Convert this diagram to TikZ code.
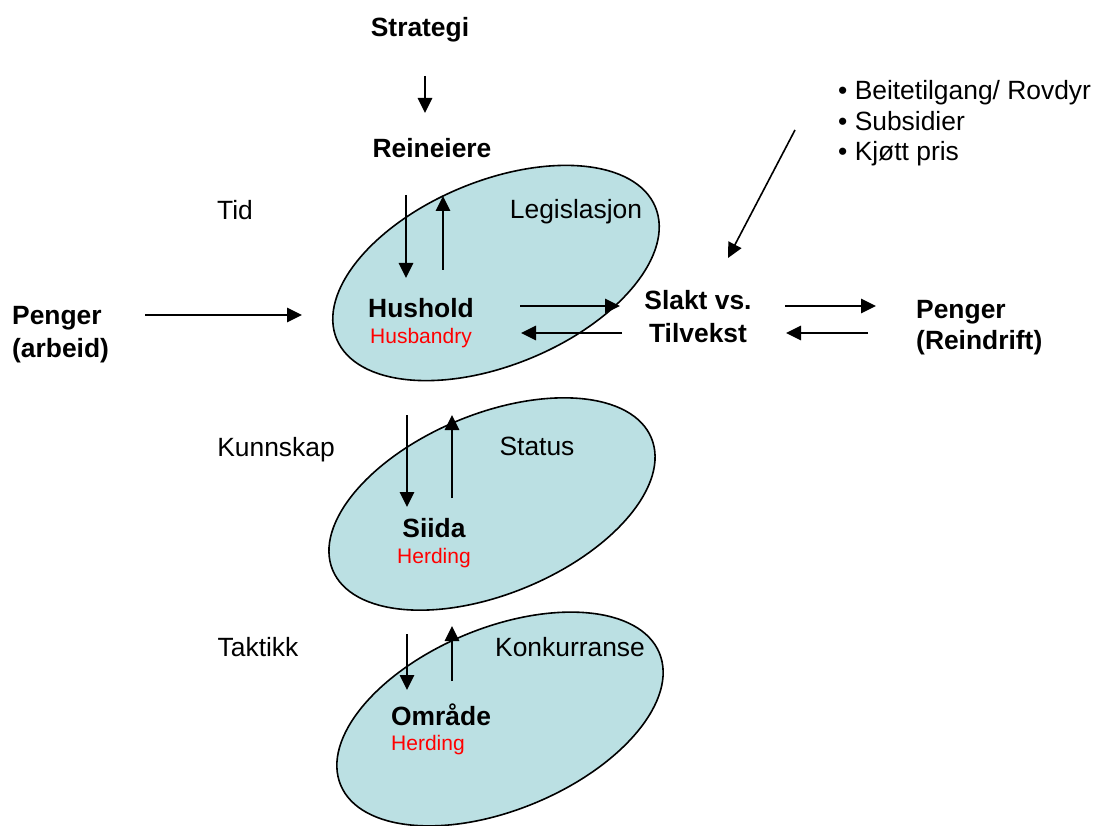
\documentclass[tikz,border=0pt]{standalone}
\usepackage{fontspec}
\setmainfont{Liberation Sans}
\usetikzlibrary{arrows.meta,shapes.geometric}
\definecolor{blobfill}{RGB}{187,224,227}
\begin{document}
\begin{tikzpicture}[x=1pt,y=-1pt,
  lbl/.style={inner sep=0pt, anchor=base, font=\fontsize{26.4}{30}\selectfont},
  blbl/.style={inner sep=0pt, anchor=base, font=\fontsize{26.4}{30}\selectfont\bfseries},
  rlbl/.style={inner sep=0pt, anchor=base, text=red, font=\fontsize{21}{25}\selectfont},
  blob/.style={ellipse, draw=black, line width=1.6pt, fill=blobfill, minimum width=345pt, minimum height=184pt, inner sep=0pt, rotate=22.5},
  arr/.style={line width=1.6pt, -{Triangle[length=15pt,width=14.5pt]}},
]
\useasboundingbox (0,0) rectangle (1095,826);
% ellipses
\node[blob] (e1) at (496,273) {};
\node[blob, minimum height=180pt] (e2) at (492,504) {};
\node[blob, minimum height=182pt] (e3) at (500,719) {};
% texts
\node[blbl] (strategi) at (420,37) {Strategi};
\node[blbl] (reineiere) at (432,158) {Reineiere};
\node[lbl] (tid) at (235,220) {Tid};
\node[lbl] (legis) at (576,219) {Legislasjon};
\node[blbl] (hushold) at (421,318) {Hushold};
\node[rlbl] (husb) at (421,344) {Husbandry};
\node[blbl] (slakt) at (698,310) {Slakt vs.};
\node[blbl] (tilvekst) at (698,342) {Tilvekst};
\node[blbl, anchor=base west] (pengerA) at (12,325) {Penger};
\node[blbl, anchor=base west] (arbeid) at (12,357) {(arbeid)};
\node[blbl, anchor=base west] (pengerR) at (916,319) {Penger};
\node[blbl, anchor=base west] (reindrift) at (916,349) {(Reindrift)};
\node[lbl, anchor=base west] (b1) at (838,100) {• Beitetilgang/ Rovdyr};
\node[lbl, anchor=base west] (b2) at (838,131) {• Subsidier};
\node[lbl, anchor=base west] (b3) at (838,161) {• Kjøtt pris};
\node[lbl] (kunnskap) at (276,456) {Kunnskap};
\node[lbl] (status) at (537,455) {Status};
\node[blbl] (siida) at (434,537) {Siida};
\node[rlbl] (herd2) at (434,563) {Herding};
\node[lbl] (taktikk) at (258,656) {Taktikk};
\node[lbl] (konk) at (570,656) {Konkurranse};
\node[blbl, anchor=base west] (omrade) at (391,725) {Område};
\node[rlbl, anchor=base west] (herd3) at (391,750) {Herding};
% arrow end points
\coordinate (s1) at (425,76);   \coordinate (s2) at (425,113);
\coordinate (h1) at (406,195);  \coordinate (h2) at (406,278);
\coordinate (h3) at (443,270);  \coordinate (h4) at (443,196);
\coordinate (m1) at (520,306);  \coordinate (m2) at (620,306);
\coordinate (m3) at (622,333);  \coordinate (m4) at (521,333);
\coordinate (r1) at (785,306);  \coordinate (r2) at (876,306);
\coordinate (r3) at (868,333);  \coordinate (r4) at (786,333);
\coordinate (p1) at (145,315);  \coordinate (p2) at (302,315);
\coordinate (d1) at (795,130);  \coordinate (d2) at (728,258);
\coordinate (k1) at (407,415);  \coordinate (k2) at (407,507);
\coordinate (k3) at (452,498);  \coordinate (k4) at (452,415);
\coordinate (t1) at (407,634);  \coordinate (t2) at (407,690);
\coordinate (t3) at (452,681);  \coordinate (t4) at (452,626);
% arrows
\draw[arr] (s1) -- (s2);
\draw[arr] (h1) -- (h2);
\draw[arr] (h3) -- (h4);
\draw[arr] (m1) -- (m2);
\draw[arr] (m3) -- (m4);
\draw[arr] (r1) -- (r2);
\draw[arr] (r3) -- (r4);
\draw[arr] (p1) -- (p2);
\draw[arr] (d1) -- (d2);
\draw[arr] (k1) -- (k2);
\draw[arr] (k3) -- (k4);
\draw[arr] (t1) -- (t2);
\draw[arr] (t3) -- (t4);
\end{tikzpicture}
\end{document}
